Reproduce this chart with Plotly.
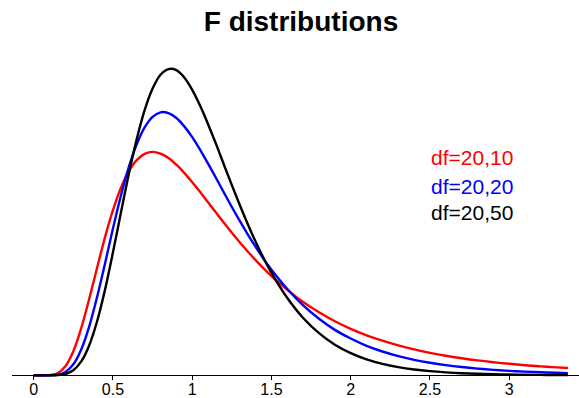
import plotly.graph_objects as go

# Values (density heights at each x)
x_vals = [0.0, 0.1, 0.15, 0.2, 0.25, 0.3, 0.35, 0.4, 0.45, 0.5, 0.55, 0.6, 0.65, 0.7,
          0.75, 0.8, 0.85, 0.9, 0.95, 1.0, 1.05, 1.1, 1.15, 1.2, 1.25, 1.3, 1.35,
          1.4, 1.45, 1.5, 1.6, 1.7, 1.8, 1.9, 2.0, 2.1, 2.2, 2.3, 2.4, 2.5, 2.6,
          2.7, 2.8, 2.9, 3.0, 3.1, 3.2, 3.3, 3.37]
df_20_10 = [0.0, 0.0007, 0.0077, 0.0337, 0.0893, 0.175, 0.2823, 0.398, 0.511, 0.611,
            0.693, 0.755, 0.796, 0.819, 0.8265, 0.820, 0.804, 0.779, 0.749, 0.714,
            0.678, 0.640, 0.602, 0.564, 0.527, 0.492, 0.458, 0.426, 0.3955, 0.367,
            0.316, 0.271, 0.233, 0.200, 0.172, 0.148, 0.128, 0.1105, 0.0958, 0.0832,
            0.0724, 0.0632, 0.0552, 0.0484, 0.0425, 0.0374, 0.0330, 0.0292, 0.0269]
df_20_20 = [0.0, 0.0001, 0.0022, 0.0123, 0.0406, 0.0957, 0.180, 0.290, 0.414, 0.543,
            0.664, 0.770, 0.855, 0.917, 0.956, 0.973, 0.970, 0.952, 0.921, 0.881,
            0.834, 0.783, 0.730, 0.676, 0.6225, 0.571, 0.5215, 0.475, 0.431, 0.3905,
            0.319, 0.2585, 0.209, 0.168, 0.136, 0.109, 0.088, 0.0709, 0.0573, 0.0463,
            0.0375, 0.0305, 0.0248, 0.0202, 0.0165, 0.0136, 0.0111, 0.0092, 0.0080]
df_20_50 = [0.0, 0.0, 0.0007, 0.0048, 0.0187, 0.0513, 0.1105, 0.200, 0.317, 0.455,
            0.601, 0.745, 0.874, 0.981, 1.061, 1.112, 1.133, 1.129, 1.102, 1.056,
            0.997, 0.929, 0.856, 0.779, 0.7035, 0.630, 0.560, 0.494, 0.434, 0.379,
            0.286, 0.212, 0.156, 0.113, 0.082, 0.0588, 0.0421, 0.0301, 0.0214, 0.0153,
            0.0109, 0.0077, 0.0055, 0.0039, 0.0028, 0.0020, 0.0014, 0.0010, 0.0008]

series = [("df=20,10", df_20_10, "#ff0000"),
          ("df=20,20", df_20_20, "#0000ff"),
          ("df=20,50", df_20_50, "#000000")]
legend_y = [0.804, 0.700, 0.604]
tick_vals = [0, 0.5, 1, 1.5, 2, 2.5, 3]
tick_text = ["0", "0.5", "1", "1.5", "2", "2.5", "3"]

W, H = 579, 398
ml, mr, mt, mb = 12, 0, 50, 18
y0, y1 = -0.0174, 1.2035

fig = go.Figure()
for name, vals, col in series:
    fig.add_trace(go.Scatter(x=x_vals, y=vals, mode="lines", name=name,
                             line=dict(color=col, width=2.4, shape="spline", smoothing=1.0),
                             showlegend=False, hoverinfo="skip"))

for (name, vals, col), ly in zip(series, legend_y):
    fig.add_annotation(x=2.495, y=ly, xref="x", yref="y", text=name, showarrow=False,
                       xanchor="left", yanchor="middle",
                       font=dict(family="Liberation Sans, Arial", size=21, color=col))

fig.update_layout(
    width=W, height=H,
    margin=dict(l=ml, r=mr, t=mt, b=mb, pad=0, autoexpand=False),
    paper_bgcolor="white", plot_bgcolor="white",
    title=dict(text="<b>F distributions</b>", x=301 / W, xanchor="center",
               y=1 - 21 / H, yanchor="middle", automargin=False,
               font=dict(family="Liberation Sans, Arial", size=28, color="black")),
    xaxis=dict(range=[-0.1369, 3.44], showgrid=False, zeroline=False, automargin=False,
               showline=True, linecolor="black", linewidth=1,
               anchor="free", position=(0 - y0) / (y1 - y0),
               tickmode="array", tickvals=tick_vals, ticktext=tick_text,
               ticks="outside", ticklen=4, tickcolor="black", tickwidth=1,
               ticklabelstandoff=-4,
               tickfont=dict(family="Liberation Sans, Arial", size=16, color="black")),
    yaxis=dict(range=[y0, y1], visible=False, showgrid=False, zeroline=False,
               automargin=False),
)

fig.write_html("out.html")
